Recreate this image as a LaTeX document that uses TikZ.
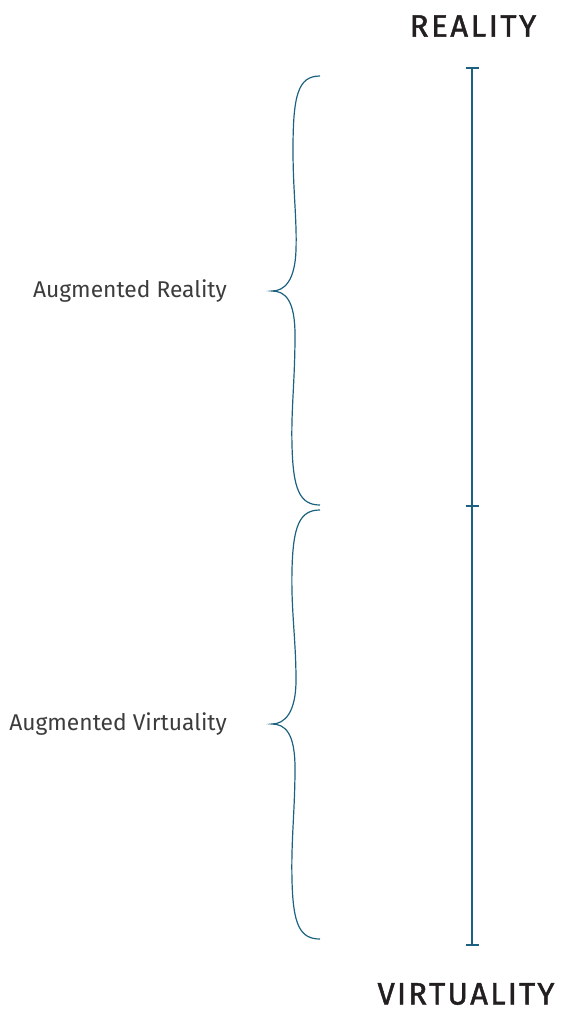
\documentclass[tikz,border=0pt]{standalone}
\usepackage{fontspec}
\setmainfont{Fira Sans}
\newfontfamily\titlefont[FakeBold=1.5]{Fira Sans}
\begin{document}
\begin{tikzpicture}[x=1pt,y=-1pt,
  axis/.style={draw=scaleblue,line width=2.4pt},
  bracepath/.style={draw=scaleblue,line width=1.2pt},
  title/.style={font=\titlefont\fontsize{31}{31}\selectfont,text=titlegray,inner sep=0pt},
  label/.style={font=\fontsize{22.8}{23}\selectfont,text=labelgray,inner sep=0pt}]
\definecolor{scaleblue}{RGB}{28,98,128}
\definecolor{titlegray}{RGB}{35,31,32}
\definecolor{labelgray}{RGB}{60,60,60}
\useasboundingbox (0,0) rectangle (563,1013);
\node[title] (real) at (473,26) {R\kern2.6pt E\kern2.6pt A\kern2.6pt L\kern2.6pt I\kern2.6pt T\kern2.6pt Y};
\node[title] (virt) at (466,994) {V\kern2.2pt I\kern2.2pt R\kern2.2pt T\kern2.2pt U\kern2.2pt A\kern2.2pt L\kern2.2pt I\kern2.2pt T\kern2.2pt Y};
\coordinate (top) at (472,68);
\coordinate (mid) at (472,506);
\coordinate (bot) at (472,945);
\draw[axis] (top) -- (bot);
\draw[axis] ([xshift=-6.5]top) -- ([xshift=6.5]top);
\draw[axis] ([xshift=-6.5]mid) -- ([xshift=6.5]mid);
\draw[axis] ([xshift=-6.5]bot) -- ([xshift=6.5]bot);
% upper brace
\coordinate (b1a) at (320,76);
\coordinate (b1tip) at (272,291);
\coordinate (b1b) at (320,505);
\draw[bracepath] (b1a) .. controls (298,76) and (293,95) .. (293,150)
  .. controls (293,190) and (297,220) .. (296,250)
  .. controls (295,280) and (285,291) .. (b1tip)
  .. controls (285,291) and (295,300) .. (295,335)
  .. controls (295,380) and (291,410) .. (292,445)
  .. controls (293,490) and (300,505) .. (b1b);
% lower brace
\coordinate (b2a) at (320,510);
\coordinate (b2tip) at (272,724);
\coordinate (b2b) at (320,939);
\draw[bracepath] (b2a) .. controls (300,510) and (293,525) .. (292,570)
  .. controls (291,610) and (296,640) .. (296,680)
  .. controls (296,712) and (285,724) .. (b2tip)
  .. controls (285,724) and (295,733) .. (295,768)
  .. controls (295,810) and (291,840) .. (292,880)
  .. controls (293,925) and (300,939) .. (b2b);
\node[label,anchor=east] (ar) at (227,291) {Augmented Reality};
\node[label,anchor=east] (av) at (227,724) {Augmented Virtuality};
\end{tikzpicture}
\end{document}
